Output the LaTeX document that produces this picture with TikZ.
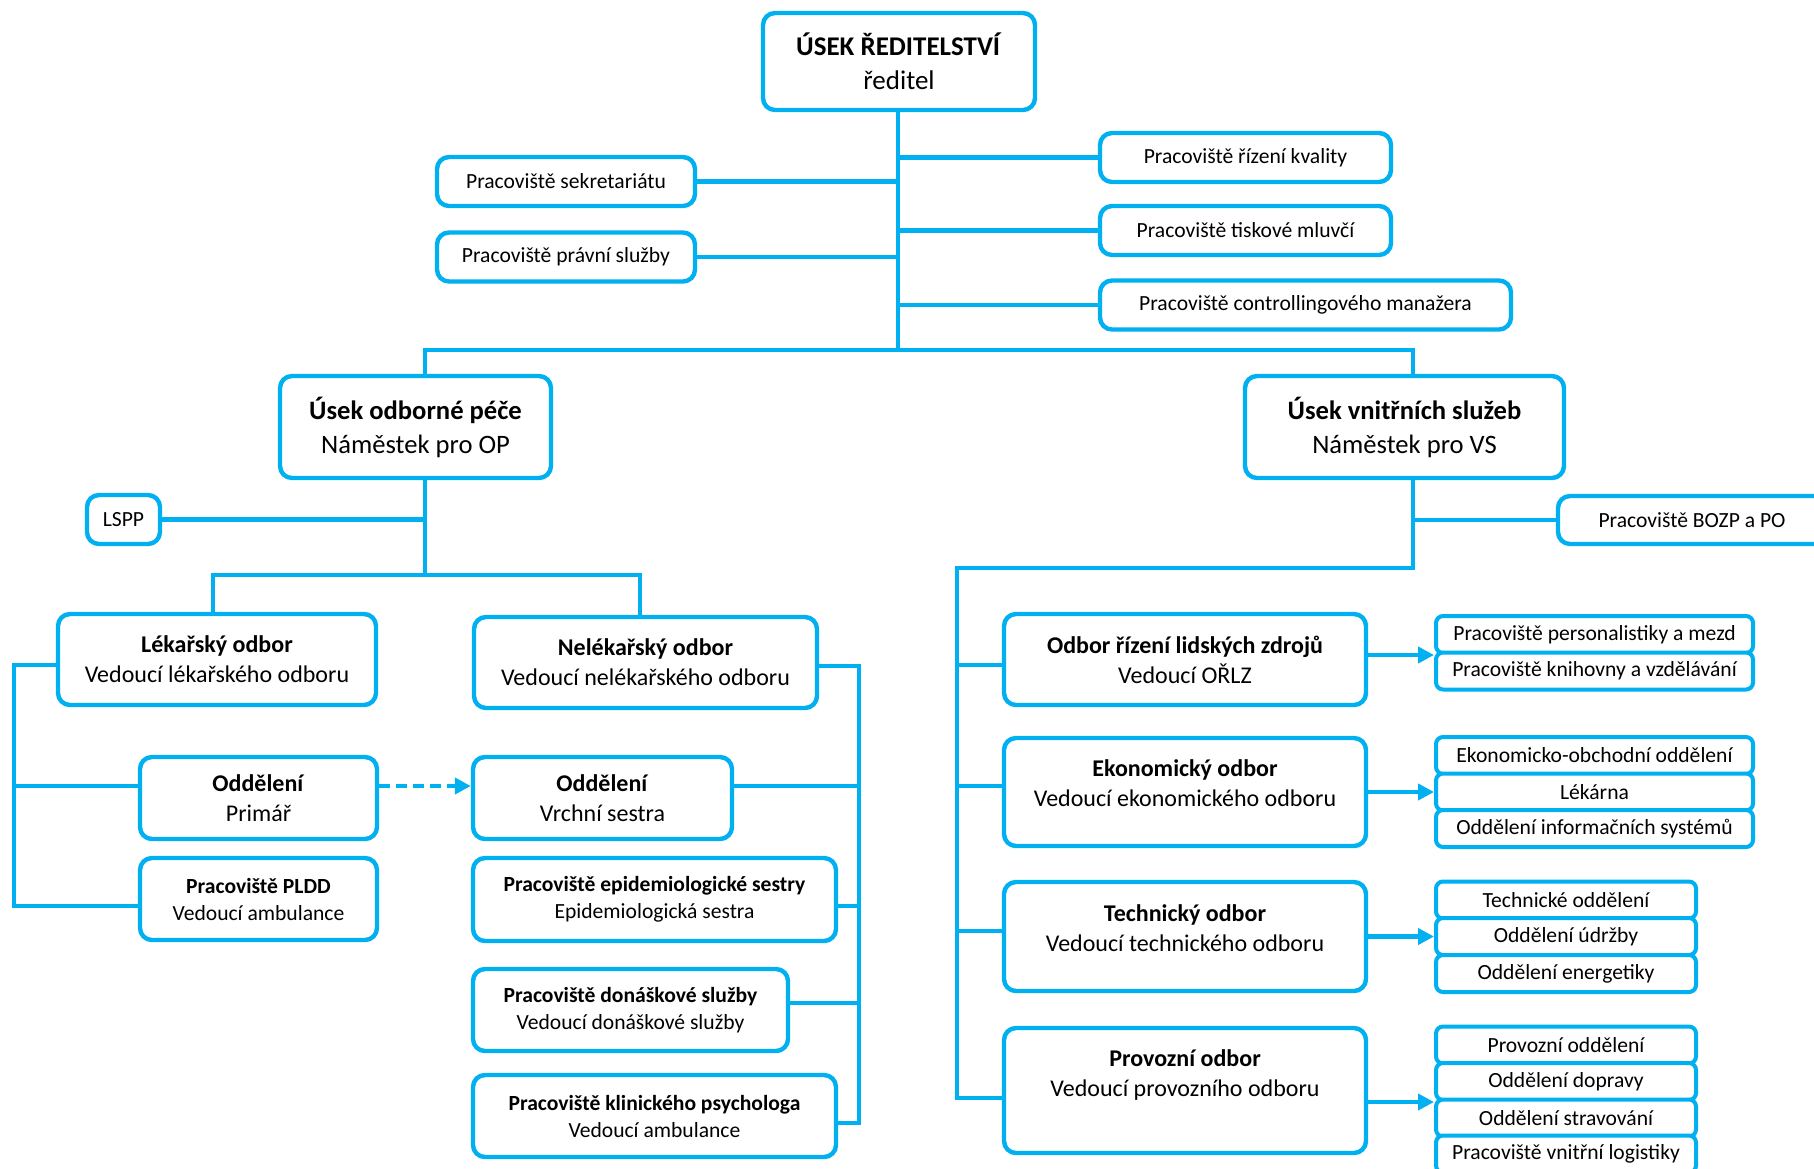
\documentclass[tikz,border=0pt]{standalone}
\usepackage{fontspec}
\setmainfont{Carlito}
\usetikzlibrary{arrows.meta}
\definecolor{orgblue}{HTML}{00B0F0}
\tikzset{
  box/.style={draw=orgblue, line width=2.2pt, rounded corners=6pt, fill=white, align=center, inner sep=0pt},
  toptext/.style={align=center, font=\fontsize{13.5}{17}\selectfont},
  bigtext/.style={align=center, font=\fontsize{13.3}{17}\selectfont},
  midtext/.style={align=center, font=\fontsize{12}{15}\selectfont},
  smalltext/.style={align=center, font=\fontsize{10.8}{13.5}\selectfont},
  topbox/.style={box, toptext},
  bigbox/.style={box, bigtext},
  midbox/.style={box, midtext},
  smallbox/.style={box, smalltext},
  subbox/.style={box, smalltext, line width=2pt, rounded corners=3.5pt, minimum height=18.5pt},
  link/.style={draw=orgblue, line width=2.1pt},
  arr/.style={link, -{Triangle[length=8pt,width=8pt]}},
  dasharr/.style={arr, dash pattern=on 5.5pt off 3pt},
}
\begin{document}
\begin{tikzpicture}[x=0.5pt, y=-0.5pt]
    \useasboundingbox (0,0) rectangle (1814,1168);
    \fill[white] (0,0) rectangle (1814,1168);
    \clip (0,0) rectangle (1814,1168);
    % top level
    \node[topbox, minimum width=136pt, minimum height=48.5pt] (ured) at (899,61.5) {\textbf{ÚSEK ŘEDITELSTVÍ}\\ředitel};
    \node[smallbox, minimum width=129pt, minimum height=24.5pt] (sekr) at (566,181.5) {Pracoviště sekretariátu};
    \node[smallbox, minimum width=129pt, minimum height=24.5pt] (prav) at (566,257) {Pracoviště právní služby};
    \node[smallbox, minimum width=145.5pt, minimum height=24.5pt] (kval) at (1245.5,157.5) {Pracoviště řízení kvality};
    \node[smallbox, minimum width=145.5pt, minimum height=24.5pt] (tisk) at (1245.5,230.5) {Pracoviště tiskové mluvčí};
    \node[smallbox, minimum width=205.5pt, minimum height=24.5pt] (contr) at (1305.5,305) {Pracoviště controllingového manažera};
    % deputies
    \node[bigbox, minimum width=135.5pt, minimum height=51pt] (op) at (415.5,427) {\textbf{Úsek odborné péče}\\Náměstek pro OP};
    \node[bigbox, minimum width=159.5pt, minimum height=51pt] (vs) at (1404.5,427) {\textbf{Úsek vnitřních služeb}\\Náměstek pro VS};
    \node[smallbox, minimum width=36.5pt, minimum height=24.5pt] (lspp) at (123.5,519.5) {LSPP};
    \node[smallbox, minimum width=134pt, minimum height=24pt] (bozp) at (1692,520) {Pracoviště BOZP a PO};
    % odborna pece
    \node[midbox, minimum width=159pt, minimum height=45.5pt] (lek) at (217,659.5) {\textbf{Lékařský odbor}\\Vedoucí lékařského odboru};
    \node[midbox, minimum width=171.5pt, minimum height=45.5pt] (nelek) at (645.5,662.5) {\textbf{Nelékařský odbor}\\Vedoucí nelékařského odboru};
    \node[midbox, minimum width=118.5pt, minimum height=41pt] (prim) at (258.5,798) {\textbf{Oddělení}\\Primář};
    \node[smallbox, minimum width=118.5pt, minimum height=41pt] (pldd) at (258.5,899) {\textbf{Pracoviště PLDD}\\Vedoucí ambulance};
    \node[midbox, minimum width=129.5pt, minimum height=41pt] (vrch) at (602.5,798) {\textbf{Oddělení}\\Vrchní sestra};
    \node[smallbox, minimum width=181.5pt, minimum height=41.5pt] (epid) at (654.5,899.5) {\textbf{Pracoviště epidemiologické sestry}\\Epidemiologická sestra};
    \node[smallbox, minimum width=157.5pt, minimum height=41pt] (don) at (630.5,1010) {\textbf{Pracoviště donáškové služby}\\Vedoucí donáškové služby};
    \node[smallbox, minimum width=181.5pt, minimum height=41pt] (psych) at (654.5,1116) {\textbf{Pracoviště klinického psychologa}\\Vedoucí ambulance};
    % vnitrni sluzby
    \node[midbox, minimum width=181pt, minimum height=45.5pt] (orlz) at (1185,659.5) {\textbf{Odbor řízení lidských zdrojů}\\Vedoucí OŘLZ};
    \node[midbox, minimum width=181pt, minimum height=54pt] (ekon) at (1185,792) {};
    \node[midtext] (ekont) at (1185,783) {\textbf{Ekonomický odbor}\\Vedoucí ekonomického odboru};
    \node[midbox, minimum width=181pt, minimum height=54.5pt] (tech) at (1185,936.5) {};
    \node[midtext] (techt) at (1185,928) {\textbf{Technický odbor}\\Vedoucí technického odboru};
    \node[midbox, minimum width=181pt, minimum height=62.5pt] (prov) at (1185,1090.5) {};
    \node[midtext] (provt) at (1185,1075) {\textbf{Provozní odbor}\\Vedoucí provozního odboru};
    % stacked units
    \node[subbox, minimum width=158.5pt] (orlz1) at (1594.5,634.5) {Pracoviště personalistiky a mezd};
    \node[subbox, minimum width=158.5pt] (orlz2) at (1594.5,671) {Pracoviště knihovny a vzdělávání};
    \node[subbox, minimum width=158.5pt] (ekon1) at (1594.5,755.5) {Ekonomicko-obchodní oddělení};
    \node[subbox, minimum width=158.5pt] (ekon2) at (1594.5,792) {Lékárna};
    \node[subbox, minimum width=158.5pt] (ekon3) at (1594.5,828.5) {Oddělení informačních systémů};
    \node[subbox, minimum width=130pt] (tech1) at (1566,900) {Technické oddělení};
    \node[subbox, minimum width=130pt] (tech2) at (1566,936.5) {Oddělení údržby};
    \node[subbox, minimum width=130pt] (tech3) at (1566,973.5) {Oddělení energetiky};
    \node[subbox, minimum width=130pt] (prov1) at (1566,1045) {Provozní oddělení};
    \node[subbox, minimum width=130pt] (prov2) at (1566,1081.5) {Oddělení dopravy};
    \node[subbox, minimum width=130pt] (prov3) at (1566,1118) {Oddělení stravování};
    \node[subbox, minimum width=130pt] (prov4) at (1566,1154) {Pracoviště vnitřní logistiky};
    % trunk from the top
    \coordinate (bus) at (898,350);
    \coordinate (busl) at (425,350);
    \coordinate (busr) at (1413,350);
    \draw[link] (bus |- ured.south) -- (bus);
    \draw[link] (sekr.east) -- (sekr.east -| bus);
    \draw[link] (prav.east) -- (prav.east -| bus);
    \draw[link] (bus |- kval.west) -- (kval.west);
    \draw[link] (bus |- tisk.west) -- (tisk.west);
    \draw[link] (bus |- contr.west) -- (contr.west);
    \draw[link] (busl |- op.north) -- (busl) -- (busr) -- (busr |- vs.north);
    % odborna pece
    \coordinate (opb) at (425,575);
    \coordinate (opl) at (213,575);
    \coordinate (opr) at (640,575);
    \draw[link] (opb |- op.south) -- (opb);
    \draw[link] (lspp.east) -- (lspp.east -| opb);
    \draw[link] (opl |- lek.north) -- (opl) -- (opr) -- (opr |- nelek.north);
    \coordinate (lk1) at (14,665);
    \coordinate (lk2) at (14,786);
    \coordinate (lk3) at (14,906);
    \draw[link] (lek.west |- lk1) -- (lk1) -- (lk3) -- (lk3 -| pldd.west);
    \draw[link] (lk2) -- (lk2 -| prim.west);
    \draw[dasharr] (prim.east |- lk2) -- (vrch.west |- lk2);
    \coordinate (nk1) at (859,666);
    \coordinate (nk2) at (859,786);
    \coordinate (nk3) at (859,906);
    \coordinate (nk4) at (859,1003);
    \coordinate (nk5) at (859,1123);
    \draw[link] (nelek.east |- nk1) -- (nk1) -- (nk5) -- (nk5 -| psych.east);
    \draw[link] (vrch.east |- nk2) -- (nk2);
    \draw[link] (epid.east |- nk3) -- (nk3);
    \draw[link] (don.east |- nk4) -- (nk4);
    % vnitrni sluzby
    \coordinate (vsb) at (1413,568);
    \coordinate (vk0) at (957,568);
    \coordinate (vk1) at (957,665);
    \coordinate (vk2) at (957,786);
    \coordinate (vk3) at (957,931);
    \coordinate (vk4) at (957,1098);
    \draw[link] (vsb |- vs.south) -- (vsb) -- (vk0) -- (vk4) -- (vk4 -| prov.west);
    \draw[link] (bozp.west) -- (bozp.west -| vsb);
    \draw[link] (vk1) -- (vk1 -| orlz.west);
    \draw[link] (vk2) -- (vk2 -| ekon.west);
    \draw[link] (vk3) -- (vk3 -| tech.west);
    \draw[arr] (orlz.east |- orlz1.south) -- (orlz1.south west);
    \draw[arr] (ekon.east |- ekon2.west) -- (ekon2.west);
    \draw[arr] (tech.east |- tech2.west) -- (tech2.west);
    \draw[arr] (prov.east |- prov2.south west) -- (prov2.south west);
\end{tikzpicture}
\end{document}
